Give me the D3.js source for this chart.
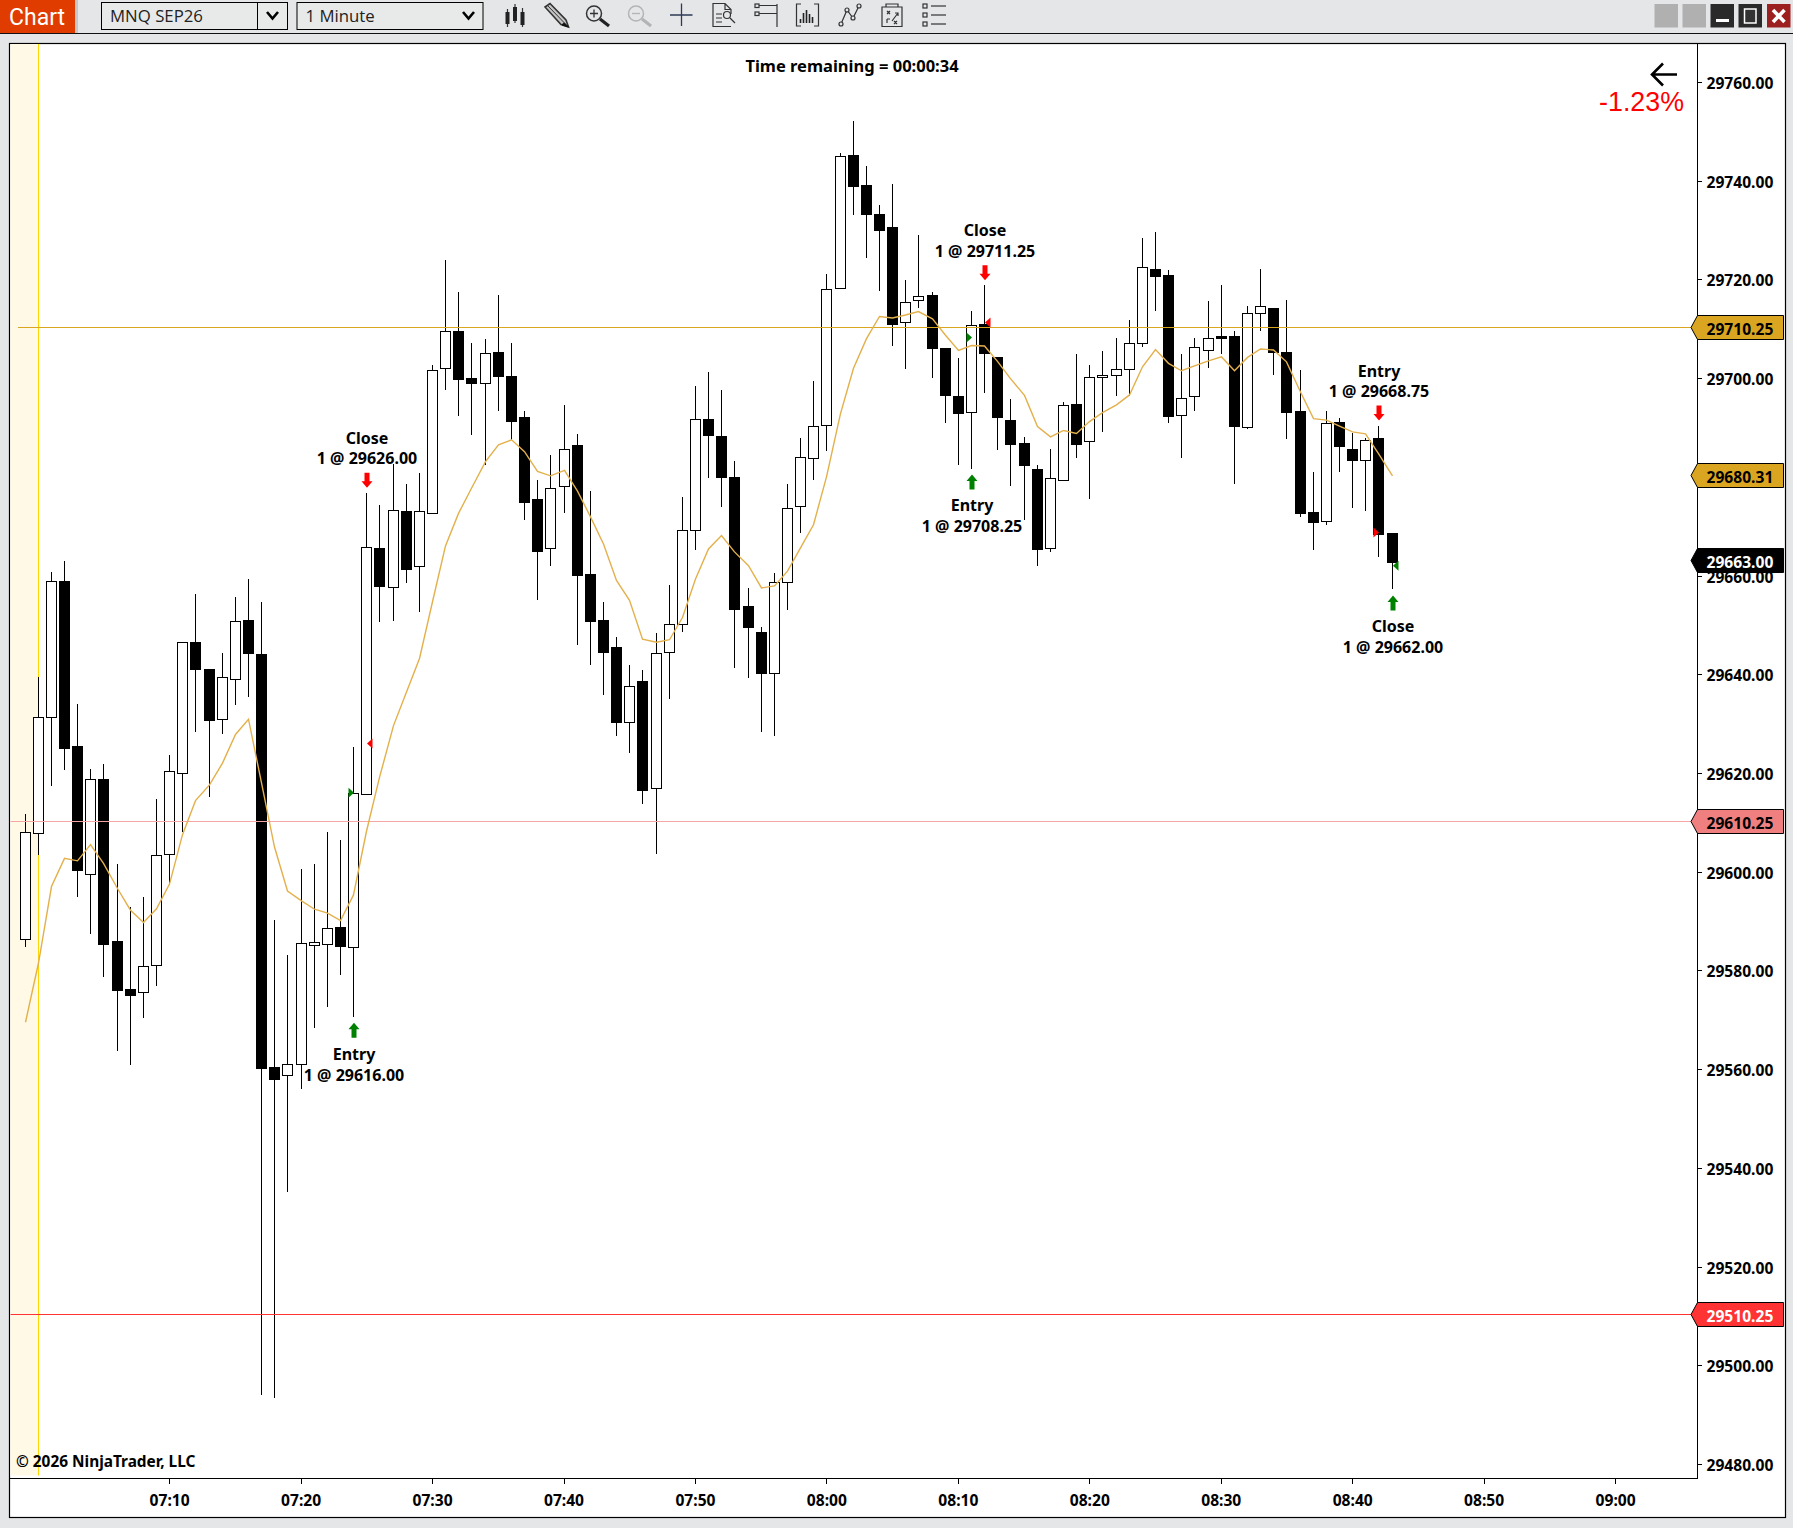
<!DOCTYPE html>
<html>
<head>
<meta charset="utf-8">
<title>MNQ SEP26 1 Minute</title>
<script src="https://cdn.jsdelivr.net/npm/d3@7"></script>
<style>
  html, body { margin: 0; padding: 0; background: #e4e6e8; }
  svg { display: block; }
  text { font-family: "Noto Sans", sans-serif; }
  .lbl { font-size: 15.6px; font-weight: 700; fill: #000; }
  .big { font-size: 16px; font-weight: 700; fill: #000; }
</style>
</head>
<body>
<div id="chart"></div>
<script>
// Bars, one per minute, first bar is 06:59
const firstBarMinute = 419;
const opens = [29586.1,29607.6,29631.1,29658.8,29625.2,29599.3,29618.7,29585.7,29576,29575.5,29581,29603.5,29619.9,29646.4,29640.8,29630.7,29638.8,29650.9,29644,29560.2,29558.7,29560.8,29585,29585.1,29588.7,29584.5,29615.6,29665.5,29657.6,29673,29661.8,29672.4,29701.8,29709.4,29699.9,29698.8,29705.1,29700.2,29691.9,29675.3,29665.4,29677.9,29686.2,29660.1,29650.9,29645.3,29630.1,29638.4,29616.8,29644.4,29650.1,29669,29691.5,29688.1,29679.7,29653.6,29648.4,29640,29658.5,29673.9,29683.6,29690.3,29718,29745,29738.9,29733,29730.4,29711.1,29715.6,29716.6,29706,29696.2,29693,29710.7,29704.2,29691.3,29686.6,29681.5,29665.5,29679.1,29694.6,29687,29700,29700.4,29701.6,29706.9,29721.9,29720.7,29692.3,29696.1,29705.6,29708.3,29708.3,29689.9,29713,29714,29705.2,29693.2,29672.6,29670.9,29690.9,29685.5,29683.3,29687.6,29668.4];
const highs = [29611.6,29639.3,29660.7,29662.9,29633.9,29620.8,29621.8,29601.4,29592.7,29594.8,29614.7,29623.6,29646.4,29656.1,29640.8,29644.3,29655.6,29659.2,29654.5,29590.1,29583.1,29600.5,29601.4,29607.9,29606.4,29625.1,29676.7,29674.3,29682.6,29678.5,29680.6,29702.6,29723.8,29717.4,29707.1,29707.9,29716.7,29707.1,29693.2,29679.2,29684.3,29694.5,29688.7,29677,29654.5,29647.4,29641.9,29640.7,29648.3,29658.1,29675.9,29698.4,29701.2,29697.6,29683.2,29657.5,29649.6,29660.4,29678.4,29687.8,29699.3,29721,29745.5,29752,29743,29735,29739.3,29719.8,29729,29717.3,29706,29704,29713.6,29718.7,29704.2,29695.6,29688,29682.4,29685.6,29695,29704.9,29702.6,29705.5,29708,29711.6,29728.4,29729.6,29721.9,29704.9,29708,29715.6,29718.7,29709.4,29714.6,29722,29714,29715.8,29701.6,29680.9,29693.3,29691.9,29688.8,29687.8,29690.3,29668.4];
const lows = [29584.6,29603.4,29617.2,29620.5,29594.8,29587.2,29578.6,29563.5,29560.7,29570.2,29576.7,29597.2,29607.9,29628.3,29615,29627.8,29633.6,29635.4,29493.8,29493.2,29535,29555.8,29568.2,29572.6,29578.9,29570.5,29615.4,29650.5,29650.8,29658.4,29652.5,29672.4,29697.6,29692.2,29688.4,29682.3,29693.3,29687.3,29671.1,29655,29661.9,29672.6,29645.9,29641.9,29635.7,29627.5,29623.9,29613.6,29603.6,29634.9,29648.4,29665.1,29679.7,29673.9,29641.2,29639.2,29628.3,29627.5,29653,29668.5,29679.2,29685.1,29718,29732.9,29724.2,29717.5,29706.4,29701.7,29714.2,29699.9,29690.8,29682.4,29681.6,29697,29685.3,29678,29671.1,29661.8,29664.7,29679.1,29683.8,29675.4,29689,29696.3,29696.4,29706.2,29713.5,29690.8,29683.7,29693.3,29701.9,29704.9,29678.4,29689.6,29709.5,29700.5,29687.6,29671.7,29665,29670.1,29681,29673.7,29673.1,29663.6,29657.1];
const closes = [29607.8,29631.1,29658.8,29624.9,29600.2,29618.7,29585.2,29575.9,29574.9,29580.8,29603.3,29620.3,29646.4,29640.9,29630.6,29639.2,29650.7,29644.2,29560.1,29557.9,29560.9,29585.3,29585.5,29588.5,29584.7,29615.7,29665.7,29657.7,29673.2,29661.2,29672.8,29701.4,29709.4,29699.7,29698.8,29704.9,29700.2,29691.2,29674.8,29664.7,29677.5,29685.5,29660,29650.7,29644.3,29630.1,29637.4,29616.4,29644.1,29650.1,29669,29691.5,29688.2,29679.7,29653,29649.3,29640,29658.5,29673.6,29683.8,29690.1,29717.8,29744.8,29738.8,29733,29729.9,29710.7,29715.3,29716.4,29706,29696.4,29692.8,29710.6,29705,29692,29686.5,29682.3,29665.3,29679.5,29694.3,29686.5,29700,29700.5,29701.6,29706.9,29722.3,29720.6,29692.2,29695.7,29706.2,29707.9,29708,29690.2,29713.1,29714.5,29705.1,29693,29672.5,29670.7,29690.8,29686.1,29683.2,29687.2,29668.3,29662.6];

// Moving average plotted over the bars
const sma = [29569.5,29581.5,29597,29602.7,29602.2,29605.5,29601.7,29596.6,29592.2,29589.7,29592.5,29597.5,29607.5,29614.4,29617.6,29622,29627.8,29630.9,29618,29605,29596.1,29594.1,29592.4,29591.6,29590.1,29595.3,29608.2,29619.1,29629.6,29636.4,29643.2,29654.7,29666,29672.6,29677.7,29683.1,29686.5,29687.5,29685.1,29681.1,29680.2,29681.3,29677.1,29671.9,29666.4,29659,29655,29647.1,29646.5,29647,29651.5,29659.3,29665.4,29668.1,29664.8,29662,29657.5,29657.9,29660.9,29665.6,29670.3,29680,29692.8,29702,29708,29712.5,29712.2,29712.8,29713.5,29712,29708.7,29705.6,29706.6,29706.5,29703.4,29699.9,29696.5,29690.2,29688.1,29689.4,29688.8,29691.2,29693,29694.6,29696.6,29702.3,29705.8,29703,29701.5,29702.5,29703.5,29704.3,29701.5,29704.2,29705.9,29705.7,29703.3,29697.2,29691.8,29691.5,29690.3,29689.1,29688.7,29684.7,29680.2];

// Axis values
const priceTicks = [29480,29500,29520,29540,29560,29580,29600,29620,29640,29660,29680,29700,29720,29740,29760];
const timeTicks = ["07:10","07:20","07:30","07:40","07:50","08:00","08:10","08:20","08:30","08:40","08:50","09:00"];

// Price markers on the right axis
const levelPrices = [29710.25,29680.31,29663,29610.25,29510.25];
const levelLabels = ["29710.25","29680.31","29663.00","29610.25","29510.25"];
const levelHasLine = [true,false,false,true,true];

// Executions
const tradeBars = [25,26,72,73,103,104];
const tradeNames = ["Entry","Close","Entry","Close","Entry","Close"];
const tradePrices = [29616,29626,29708.25,29711.25,29668.75,29662];
const tradeIsBuy = [true,false,true,false,false,true];

const tagFill = ["#daa520","#daa520","#000","#f08080","#ff3333"];
const tagText = ["#000","#000","#fff","#000","#fff"];
const lineColor = ["#daa520",null,null,"#f6a5a5","#ff3333"];

const W = 1793, H = 1528;
const plot = { left: 10, right: 1697, top: 43.5, bottom: 1478.5 };

const svg = d3.select("#chart").append("svg").attr("width", W).attr("height", H);

const minutes = s => { const p = s.split(":"); return +p[0] * 60 + +p[1]; };
const x = d3.scaleLinear().domain([430, 540]).range([169.15, 1615.1]);
const y = d3.scaleLinear().domain([29480, 29760]).range([1464, 82]);
const barX = i => Math.round(x(firstBarMinute + i)) + 0.5;

// chart frame
svg.append("rect").attr("x", 9.5).attr("y", 43.5).attr("width", 1776).attr("height", 1474)
  .attr("fill", "#fff").attr("stroke", "#000").attr("stroke-width", 1.2);

// session shading
svg.append("rect").attr("x", 10.5).attr("y", 44).attr("width", 28).attr("height", 1431.5).attr("fill", "#fff9e6");
svg.append("line").attr("x1", 38.5).attr("x2", 38.5).attr("y1", 44).attr("y2", 1475.5)
  .attr("stroke", "#ffd700").attr("stroke-width", 1);

// bars
const bars = svg.append("g").attr("shape-rendering", "crispEdges").attr("transform", "translate(0,-0.4)");
const idx = d3.range(opens.length);
bars.selectAll("line").data(idx).enter().append("line")
  .attr("x1", barX).attr("x2", barX)
  .attr("y1", i => y(highs[i])).attr("y2", i => y(lows[i]))
  .attr("stroke", "#000").attr("stroke-width", 1);
bars.selectAll("rect").data(idx).enter().append("rect")
  .attr("x", i => barX(i) - 5)
  .attr("width", 10)
  .attr("y", i => y(Math.max(opens[i], closes[i])))
  .attr("height", i => Math.max(1, Math.abs(y(opens[i]) - y(closes[i]))))
  .attr("fill", i => closes[i] >= opens[i] ? "#fff" : "#000")
  .attr("stroke", "#000").attr("stroke-width", 1);

// horizontal price lines
svg.append("g").selectAll("line").data(d3.range(levelPrices.length).filter(i => levelHasLine[i])).enter().append("line")
  .attr("x1", i => i === 0 ? 18 : 10.5).attr("x2", 1691)
  .attr("y1", i => Math.floor(y(levelPrices[i])) + 0.5).attr("y2", i => Math.floor(y(levelPrices[i])) + 0.5)
  .attr("stroke", i => lineColor[i]).attr("stroke-width", 1);

// moving average
svg.append("path").datum(sma)
  .attr("fill", "none").attr("stroke", "#e3b04b").attr("stroke-width", 1.4)
  .attr("d", d3.line().x((d, i) => barX(i)).y(d => y(d)));

// execution markers
const trades = d3.range(tradeBars.length);
const tg = svg.append("g");
trades.forEach(t => {
  const i = tradeBars[t], cx = barX(i), buy = tradeIsBuy[t], col = buy ? "#008000" : "#ff0000";
  // little triangle on the bar at the fill price
  const py = y(tradePrices[t]);
  const fromLeft = tradeNames[t] === "Entry";
  const tip = fromLeft ? cx + 0.5 : cx + 0.5, base = fromLeft ? cx - 5 : cx + 6;
  tg.append("path").attr("d", `M${base},${py - 5}L${tip},${py}L${base},${py + 5}Z`).attr("fill", col);
  // arrow and the two text lines
  const below = buy;
  const a0 = below ? y(lows[i]) + 5.5 : y(highs[i]) - 5.5;
  const s = below ? 1 : -1;
  const ax = cx + 0.5;
  tg.append("path").attr("fill", col)
    .attr("d", `M${ax},${a0}L${ax + 5.5},${a0 + s * 6.5}L${ax + 2.5},${a0 + s * 6.5}L${ax + 2.5},${a0 + s * 15}L${ax - 2.5},${a0 + s * 15}L${ax - 2.5},${a0 + s * 6.5}L${ax - 5.5},${a0 + s * 6.5}Z`);
  const l1 = below ? y(lows[i]) + 42.5 : y(highs[i]) - 49.5;
  tg.append("text").attr("class", "big").attr("x", ax).attr("y", l1).attr("text-anchor", "middle").text(tradeNames[t]);
  tg.append("text").attr("class", "big").attr("x", ax).attr("y", l1 + 20.7).attr("text-anchor", "middle")
    .text("1 @ " + d3.format(".2f")(tradePrices[t]));
});

// price axis
const yAxis = svg.append("g").attr("transform", `translate(${plot.right},0)`)
  .call(d3.axisRight(y).tickValues(priceTicks).tickSize(5).tickPadding(4.5).tickFormat(d3.format(".2f")));
yAxis.select(".domain").remove();
yAxis.selectAll("text").attr("class", "lbl").attr("dy", "0.62em").attr("y", -3.2);
yAxis.selectAll("line").attr("stroke", "#000").attr("shape-rendering", "crispEdges");

// time axis
const xAxis = svg.append("g").attr("transform", `translate(0,${plot.bottom})`)
  .call(d3.axisBottom(x).tickValues(timeTicks.map(minutes)).tickSize(5).tickPadding(11)
    .tickFormat((d, i) => timeTicks[i]));
xAxis.select(".domain").remove();
xAxis.selectAll("text").attr("class", "lbl");
xAxis.selectAll("line").attr("stroke", "#000").attr("shape-rendering", "crispEdges");

svg.append("line").attr("x1", 10).attr("x2", plot.right + 0.5).attr("y1", plot.bottom).attr("y2", plot.bottom)
  .attr("stroke", "#000").attr("shape-rendering", "crispEdges");
svg.append("line").attr("x1", plot.right + 0.5).attr("x2", plot.right + 0.5).attr("y1", 44).attr("y2", plot.bottom)
  .attr("stroke", "#000").attr("shape-rendering", "crispEdges");

// price tags
const tags = svg.append("g");
levelPrices.forEach((p, i) => {
  const c = Math.floor(y(p)) + 0.5;
  tags.append("path")
    .attr("d", `M1691,${c}L1697.5,${c - 12}L1783.5,${c - 12}L1783.5,${c + 12}L1697.5,${c + 12}Z`)
    .attr("fill", tagFill[i]).attr("stroke", "#000").attr("stroke-width", 1);
  tags.append("text").attr("class", "lbl").attr("x", 1706.5).attr("y", c + 7.6)
    .style("fill", tagText[i]).text(levelLabels[i]);
});

// overlay texts
svg.append("text").attr("class", "big").attr("x", 852).attr("y", 71.5).attr("text-anchor", "middle").style("font-size", "16.5px").text("Time remaining = 00:00:34");
svg.append("text").attr("class", "lbl").attr("x", 16).attr("y", 1466.5).style("font-size", "15.4px").text("© 2026 NinjaTrader, LLC");
svg.append("text").attr("x", 1684).attr("y", 111).attr("text-anchor", "end")
  .style("font-family", "'Liberation Sans', sans-serif").style("font-size", "26.8px").attr("fill", "#ff0000").text("-1.23%");
svg.append("path").attr("d", "M1677,74.5H1652M1663,63.5L1652,74.5L1663,85.5")
  .attr("fill", "none").attr("stroke", "#000").attr("stroke-width", 2.6);

// toolbar
svg.append("rect").attr("width", W).attr("height", 33).attr("fill", "#e4e6e8");
svg.append("line").attr("x1", 0).attr("x2", W).attr("y1", 33.5).attr("y2", 33.5).attr("stroke", "#111").attr("stroke-width", 1);
svg.append("rect").attr("x", 75).attr("width", 3).attr("height", 33).attr("fill", "#c8c8c8");
svg.append("rect").attr("width", 75).attr("height", 33).attr("fill", "#e03c00");
svg.append("text").attr("x", 9).attr("y", 24.5).attr("fill", "#fff").style("font-size", "23px").style("font-family", "Roboto, sans-serif").text("Chart");

const boxes = [[101.5, 186, 30, "MNQ SEP26"], [297, 186, 0, "1 Minute"]];
boxes.forEach(b => {
  svg.append("rect").attr("x", b[0]).attr("y", 2.5).attr("width", b[1]).attr("height", 27)
    .attr("fill", "#e8eaea").attr("stroke", "#000").attr("stroke-width", 1);
  if (b[2]) svg.append("line").attr("x1", 257.5).attr("x2", 257.5).attr("y1", 3).attr("y2", 29).attr("stroke", "#000");
  svg.append("text").attr("x", b[0] + 8.5).attr("y", 22).attr("fill", "#222").style("font-size", "16.8px").style("font-family", "'Open Sans', sans-serif").text(b[3]);
});
[272.5, 468.5].forEach(cx => {
  svg.append("path").attr("d", `M${cx - 5.5},12L${cx},18.5L${cx + 5.5},12`).attr("fill", "none").attr("stroke", "#000").attr("stroke-width", 2.6);
});

// toolbar icons, coordinates in the 460x34 strip starting at x=500
const icons = svg.append("g").attr("transform", "translate(500,0)").attr("fill", "none").attr("stroke", "#333").attr("stroke-width", 1.2);
icons.append("path").attr("d", "M7.5,9V27M15,4V23M22.5,8V27").attr("stroke", "#333");
[[5.5, 12, 12], [13, 7, 14], [20.5, 12, 13]].forEach(r => icons.append("rect").attr("x", r[0]).attr("y", r[1]).attr("width", 4).attr("height", r[2]).attr("fill", "#222").attr("stroke", "none"));
icons.append("path").attr("d", "M45,7L50,3.5L66,20L68.5,27L61,24.5Z").attr("fill", "#c4c4c4").attr("stroke-width", 1.6);
icons.append("path").attr("d", "M47.5,5.5L63.5,22").attr("stroke-width", 1);
icons.append("path").attr("d", "M64,22.5L68.5,27L62,25Z").attr("fill", "#111").attr("stroke", "#111").attr("stroke-width", 1);
icons.append("circle").attr("cx", 94).attr("cy", 13.5).attr("r", 7.5).attr("stroke-width", 1.5);
icons.append("path").attr("d", "M90,13.5H98M94,9.5V17.5").attr("stroke-width", 1.3);
icons.append("path").attr("d", "M100,19L109,26").attr("stroke-width", 3.2).attr("stroke", "#222");
icons.append("circle").attr("cx", 136).attr("cy", 13.5).attr("r", 7.5).attr("stroke", "#b4b4b4").attr("stroke-width", 1.5);
icons.append("path").attr("d", "M132,13.5H140").attr("stroke", "#b4b4b4").attr("stroke-width", 1.3);
icons.append("path").attr("d", "M142,19L151,26").attr("stroke-width", 3.2).attr("stroke", "#b4b4b4");
icons.append("path").attr("d", "M170,15H192.5M181.5,3.5V26").attr("stroke", "#2e3b55").attr("stroke-width", 1.3);
icons.append("path").attr("d", "M231,26.5H213V3.5H225L231,9.5V14M225,3.5V9.5H231M216,14H222M216,18H222M216,22H222").attr("stroke-width", 1.2);
icons.append("circle").attr("cx", 227).attr("cy", 15).attr("r", 3.5);
icons.append("path").attr("d", "M230,18L235,23");
icons.append("rect").attr("x", 255).attr("y", 4).attr("width", 4).attr("height", 3.5);
icons.append("rect").attr("x", 255).attr("y", 12).attr("width", 4).attr("height", 3.5);
icons.append("path").attr("d", "M259,5.5H277M259,13.5H277M277,4V27");
icons.append("path").attr("d", "M301,4H296.5V26H301M314,4H318.5V26H314").attr("stroke-width", 1.2);
[[300.5, 19, 22], [303.5, 13, 22], [306.5, 10, 22], [309.5, 14, 22], [312.5, 17, 22]].forEach(r => icons.append("line").attr("x1", r[0]).attr("x2", r[0]).attr("y1", r[1]).attr("y2", r[2] + 1).attr("stroke", "#222").attr("stroke-width", 1.6));
icons.append("path").attr("d", "M341,24L347,10L353,18L359,6").attr("stroke-width", 1.2);
[[341, 24], [347, 10], [353, 18], [359, 6]].forEach(c => icons.append("circle").attr("cx", c[0]).attr("cy", c[1]).attr("r", 2).attr("fill", "#e4e6e8"));
icons.append("path").attr("d", "M382,7H402V26.5H382ZM386,4H398V7H386ZM387,11L390,14M390,11L387,14M392,21L398,13M395,13H398V16M387,19H390M387,19V23M394,21L397,24M397,21L394,24");
[6, 15, 24].forEach(v => {
  icons.append("rect").attr("x", 423).attr("y", v - 2).attr("width", 4).attr("height", 4);
  icons.append("line").attr("x1", 431).attr("x2", 446).attr("y1", v).attr("y2", v);
});

// window buttons
[[1654.5, "#b0b0b0"], [1682.5, "#b0b0b0"], [1710.5, "#2a2a2a"], [1738.5, "#2a2a2a"], [1767, "#9c2020"]].forEach(b => {
  svg.append("rect").attr("x", b[0]).attr("y", 4).attr("width", 23.5).attr("height", 23.5).attr("fill", b[1]);
});
svg.append("rect").attr("x", 1716).attr("y", 19).attr("width", 13).attr("height", 3).attr("fill", "#fff");
svg.append("rect").attr("x", 1744.5).attr("y", 9).attr("width", 11.5).attr("height", 14).attr("fill", "#333").attr("stroke", "#fff").attr("stroke-width", 1.5);
svg.append("path").attr("d", "M1773,10L1784.5,22M1784.5,10L1773,22").attr("stroke", "#fff").attr("stroke-width", 3.6);
</script>
</body>
</html>
